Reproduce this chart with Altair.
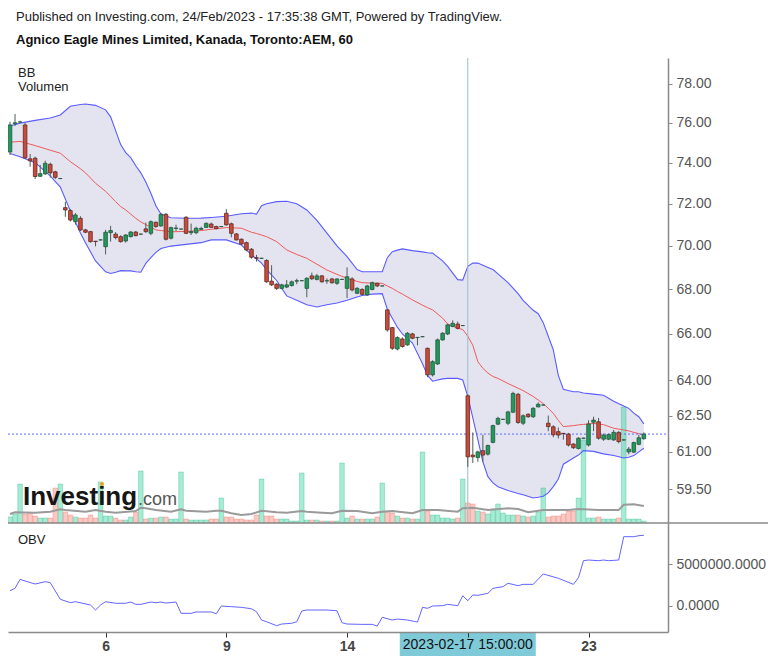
import altair as alt
import pandas as pd

# ---------------- texts ----------------
title_line = "Published on Investing.com, 24/Feb/2023 - 17:35:38 GMT, Powered by TradingView."
subtitle_line = "Agnico Eagle Mines Limited, Kanada, Toronto:AEM, 60"
crosshair_label = "2023-02-17 15:00:00"
crosshair_idx = 91
last_price = 61.73

# ---------------- hourly candles (bar index 0..126) ----------------
open_ = [74.53, 75.95, 76.04, 75.89, 74.19, 74.22, 73.33, 73.45, 73.92, 73.55,
         73.22, 71.81, 71.67, 71.14, 71.30, 70.75, 70.67, 70.22, 70.28, 69.96,
         70.62, 70.55, 70.43, 70.23, 70.43, 70.65, 70.55, 70.80, 70.59, 71.11,
         70.94, 71.49, 70.36, 70.82, 70.79, 71.35, 70.62, 70.62, 70.78, 70.87,
         71.03, 70.91, 70.91, 71.54, 71.04, 70.56, 70.31, 70.15, 69.84, 69.45,
         69.42, 69.32, 68.37, 68.23, 68.04, 68.10, 68.17, 68.37, 68.39, 68.04,
         68.61, 68.45, 68.61, 68.38, 68.47, 68.27, 68.45, 68.04, 68.47, 67.82,
         67.99, 67.74, 67.99, 68.27, 68.15, 67.07, 66.28, 65.34, 65.78, 65.52,
         66.00, 65.84, 65.88, 65.37, 64.22, 64.69, 65.74, 66.00, 66.33, 66.44,
         66.37, 63.33, 60.87, 60.77, 61.05, 60.91, 61.39, 62.14, 62.34, 62.18,
         62.64, 63.39, 62.18, 62.55, 62.45, 62.86, 62.94, 62.18, 62.03, 61.83,
         61.76, 61.73, 61.32, 61.14, 61.56, 61.28, 62.22, 62.24, 61.52, 61.52,
         61.49, 61.80, 61.49, 61.00, 60.99, 61.31, 61.54]
high = [76.05, 76.45, 76.10, 76.00, 74.43, 74.30, 73.89, 74.10, 74.00, 73.60,
        73.25, 72.09, 71.75, 71.55, 71.40, 70.80, 70.70, 70.22, 70.30, 70.75,
        70.94, 70.65, 70.50, 70.55, 70.70, 70.70, 70.57, 71.10, 71.20, 71.15,
        71.55, 71.55, 70.90, 71.00, 70.81, 71.40, 71.05, 70.90, 70.90, 71.10,
        71.10, 70.95, 70.93, 71.74, 71.10, 70.60, 70.35, 70.20, 69.90, 69.58,
        69.44, 69.38, 69.10, 68.28, 68.25, 68.42, 68.40, 68.48, 68.41, 68.55,
        68.76, 68.70, 68.65, 68.50, 68.52, 68.50, 68.47, 69.00, 68.55, 68.10,
        68.05, 68.20, 68.35, 68.30, 68.17, 67.10, 66.30, 65.90, 65.85, 66.08,
        66.05, 65.86, 65.90, 65.40, 64.85, 65.80, 66.08, 66.45, 66.60, 66.55,
        66.39, 63.40, 61.80, 61.05, 61.70, 61.30, 62.12, 62.45, 62.36, 62.70,
        63.50, 63.45, 62.55, 62.60, 62.85, 63.05, 62.96, 62.50, 62.10, 62.00,
        61.77, 61.78, 61.35, 61.60, 61.58, 62.30, 62.45, 62.40, 61.75, 61.75,
        61.90, 61.85, 61.51, 61.20, 61.42, 61.70, 61.80]
low = [74.38, 75.84, 76.00, 74.19, 73.80, 73.20, 73.30, 73.40, 73.27, 73.20,
       73.20, 71.37, 71.15, 71.00, 70.70, 70.60, 70.15, 69.98, 70.26, 69.60,
       70.20, 70.30, 70.15, 70.15, 70.40, 70.45, 70.53, 70.60, 70.50, 70.85,
       70.90, 70.25, 70.30, 70.70, 70.77, 70.55, 70.51, 70.55, 70.75, 70.85,
       70.85, 70.78, 70.89, 70.95, 70.40, 70.25, 70.05, 69.75, 69.40, 69.27,
       69.40, 68.30, 68.15, 67.97, 68.00, 68.05, 68.12, 68.23, 68.37, 67.64,
       68.42, 68.40, 68.30, 68.25, 68.25, 68.20, 68.43, 67.60, 67.90, 67.78,
       67.72, 67.70, 67.95, 68.10, 68.13, 66.10, 65.30, 65.28, 65.40, 65.48,
       65.77, 65.50, 65.86, 64.12, 64.15, 64.65, 65.70, 65.95, 66.30, 66.20,
       66.35, 60.39, 60.55, 60.60, 60.60, 60.85, 61.35, 62.10, 62.32, 62.10,
       62.60, 62.15, 62.10, 62.40, 62.40, 62.85, 62.92, 61.85, 61.60, 61.55,
       61.50, 61.22, 61.12, 61.10, 61.54, 61.22, 61.85, 61.50, 61.45, 61.48,
       61.45, 61.35, 61.47, 60.90, 60.95, 61.27, 61.50]
close = [75.89, 76.00, 76.04, 74.24, 74.09, 73.32, 73.46, 73.97, 73.50, 73.28,
         73.22, 71.70, 71.22, 71.46, 70.75, 70.64, 70.20, 70.20, 70.28, 70.64,
         70.72, 70.39, 70.20, 70.51, 70.65, 70.48, 70.55, 70.67, 71.14, 70.91,
         71.49, 70.31, 70.86, 70.84, 70.79, 70.59, 70.67, 70.83, 70.82, 71.06,
         70.87, 70.81, 70.91, 70.99, 70.59, 70.28, 70.09, 69.81, 69.47, 69.42,
         69.42, 68.34, 68.20, 68.04, 68.20, 68.20, 68.34, 68.39, 68.39, 68.50,
         68.48, 68.61, 68.34, 68.39, 68.30, 68.47, 68.45, 68.57, 67.97, 68.04,
         67.77, 68.15, 68.30, 68.15, 68.15, 66.18, 65.37, 65.84, 65.45, 66.03,
         65.81, 65.85, 65.88, 64.22, 64.79, 65.74, 66.03, 66.40, 66.47, 66.25,
         66.37, 60.80, 60.80, 61.00, 60.87, 61.26, 62.08, 62.38, 62.34, 62.65,
         63.43, 62.21, 62.49, 62.45, 62.80, 62.97, 62.94, 62.04, 61.70, 61.69,
         61.75, 61.28, 61.17, 61.56, 61.56, 62.15, 62.31, 61.56, 61.69, 61.71,
         61.80, 61.42, 61.49, 61.11, 61.38, 61.58, 61.73]
# volume in thousands of shares
volume_k = [148, 221, 959, 221, 246, 172, 123, 123, 123, 861,
            959, 271, 197, 148, 123, 123, 197, 123, 1009, 172,
            172, 123, 74, 74, 148, 271, 1279, 98, 123, 123,
            148, 148, 98, 98, 1255, 98, 74, 74, 74, 74,
            98, 98, 615, 148, 148, 98, 98, 74, 74, 197,
            1082, 172, 172, 98, 98, 98, 49, 49, 1230, 74,
            74, 74, 49, 49, 49, 49, 1476, 123, 172, 98,
            98, 98, 98, 148, 984, 295, 246, 172, 123, 123,
            98, 98, 1747, 295, 197, 197, 123, 123, 98, 123,
            1082, 492, 467, 295, 271, 221, 344, 467, 246, 197,
            197, 197, 172, 148, 172, 271, 861, 148, 172, 172,
            221, 295, 295, 615, 2042, 123, 123, 148, 98, 98,
            98, 123, 2854, 98, 98, 98, 49]

# ---------------- Bollinger bands ----------------
bb_idx = [0, 2, 5, 8, 10, 12, 14, 15, 17, 19,
          20, 21, 22, 23, 24, 25, 26, 27, 28, 29,
          30, 32, 35, 38, 40, 43, 46, 48, 49, 50,
          51, 53, 55, 57, 59, 61, 63, 65, 67, 69,
          70, 72, 74, 75, 76, 77, 78, 80, 82, 83,
          84, 86, 87, 89, 90, 91, 92, 93, 94, 95,
          96, 97, 99, 101, 102, 104, 105, 106, 107, 108,
          109, 110, 112, 113, 114, 116, 118, 120, 122, 123,
          124, 125, 126]
bb_upper = [75.84, 75.98, 76.12, 76.24, 76.40, 76.84, 76.93, 76.96, 76.89, 76.66,
            76.30, 75.60, 74.90, 74.50, 74.25, 73.85, 73.50, 73.05, 72.50, 71.90,
            71.50, 71.33, 71.30, 71.31, 71.34, 71.40, 71.52, 71.55, 71.50, 71.90,
            72.00, 72.10, 72.12, 72.00, 71.70, 71.20, 70.60, 70.00, 69.50, 68.90,
            68.80, 68.80, 68.80, 69.45, 69.73, 69.80, 69.86, 69.78, 69.72, 69.68,
            69.66, 69.30, 69.05, 68.44, 68.42, 69.05, 69.20, 69.20, 69.10, 69.00,
            68.90, 68.70, 68.30, 67.80, 67.50, 67.05, 66.90, 66.50, 65.90, 65.30,
            64.20, 63.60, 63.50, 63.50, 63.45, 63.40, 63.35, 63.10, 62.90, 62.80,
            62.60, 62.45, 62.15]
bb_mid = [75.02, 75.06, 74.85, 74.62, 74.47, 74.05, 73.70, 73.50, 72.99, 72.60,
          72.35, 72.10, 71.86, 71.70, 71.50, 71.30, 71.13, 71.00, 70.88, 70.75,
          70.72, 70.66, 70.68, 70.72, 70.78, 70.86, 70.83, 70.64, 70.58, 70.51,
          70.43, 70.20, 69.81, 69.60, 69.42, 69.15, 68.88, 68.68, 68.50, 68.36,
          68.30, 68.28, 68.27, 68.15, 68.04, 67.90, 67.78, 67.52, 67.28, 67.17,
          67.07, 66.70, 66.44, 66.25, 66.20, 65.90, 65.50, 64.79, 64.50, 64.30,
          64.15, 64.07, 63.85, 63.65, 63.55, 63.30, 63.15, 63.00, 62.80, 62.59,
          62.30, 62.04, 62.08, 62.11, 62.13, 62.17, 62.12, 61.97, 61.90, 61.86,
          61.80, 61.75, 61.69]
bb_lower = [74.46, 74.29, 74.00, 73.35, 72.80, 71.65, 70.60, 70.15, 69.30, 68.80,
            68.72, 68.78, 68.85, 68.84, 68.84, 68.80, 68.78, 69.19, 69.45, 69.70,
            69.88, 69.99, 70.07, 70.15, 70.28, 70.28, 70.04, 69.58, 69.40, 69.20,
            68.90, 68.40, 67.70, 67.50, 67.30, 67.20, 67.30, 67.38, 67.50, 67.65,
            67.72, 67.78, 67.80, 67.10, 66.70, 66.30, 66.00, 65.60, 64.70, 64.20,
            63.95, 64.05, 64.07, 64.07, 64.00, 63.30, 62.40, 61.50, 60.60, 60.00,
            59.75, 59.60, 59.45, 59.33, 59.28, 59.15, 59.18, 59.22, 59.35, 59.60,
            59.90, 60.50, 60.75, 60.87, 61.05, 61.02, 60.92, 60.85, 60.75, 60.78,
            60.85, 61.00, 61.15]

# ---------------- volume moving average (thousands) ----------------
vma_idx = [0, 1, 5, 8, 10, 11, 15, 17, 19, 21, 25, 26, 27, 29, 32, 34, 35, 39, 41, 42,
           44, 46, 48, 50, 53, 55, 58, 59, 62, 64, 66, 69, 72, 74, 76, 80, 82, 85, 89, 90,
           92, 95, 99, 101, 103, 106, 109, 111, 113, 117, 121, 122, 124, 126]
vma_val = [221, 263, 253, 278, 337, 320, 278, 320, 278, 253, 295, 376, 362, 320, 278, 337, 303, 278, 303, 303,
           239, 197, 221, 303, 263, 253, 295, 278, 253, 239, 303, 295, 239, 278, 295, 239, 320, 320, 278, 362,
           376, 320, 362, 344, 263, 320, 320, 320, 344, 320, 320, 450, 460, 418]

# ---------------- OBV (millions) ----------------
obv_idx = [0, 1, 2, 3, 5, 7, 8, 10, 12, 13, 16, 17, 18, 19, 21, 23, 24, 25, 26, 28,
           29, 30, 31, 33, 34, 36, 37, 40, 41, 42, 44, 46, 48, 49, 50, 51, 53, 54, 56, 57,
           58, 59, 63, 65, 66, 67, 70, 72, 73, 74, 76, 77, 79, 81, 82, 83, 84, 86, 87, 89,
           90, 91, 92, 93, 95, 96, 98, 99, 101, 102, 104, 106, 109, 112, 113, 114, 115, 117, 118, 119,
           121, 122, 124, 125, 126]
obv_m = [1.78, 2.07, 3.16, 2.95, 2.59, 2.87, 2.75, 0.75, 0.34, 0.46, 0.06, -0.54, 0.06, 0.46, 0.27, 0.27, 0.42, 0.14, 0.14, 0.42,
         0.34, 0.42, 0.30, 0.42, -0.94, -0.94, -0.78, -0.78, -0.99, -0.06, -0.14, -0.22, -0.39, -0.75, -1.75, -1.95, -2.43, -2.23, -2.14, -1.95,
         -0.66, -0.54, -0.54, -0.63, -2.07, -2.23, -2.27, -2.27, -2.47, -1.42, -1.75, -1.63, -1.75, -1.99, -0.22, -0.34, -0.06, -0.02, 0.14, -0.02,
         1.18, 0.58, 1.27, 1.23, 1.47, 2.07, 2.27, 2.68, 2.39, 2.55, 2.55, 3.80, 3.28, 2.55, 3.35, 5.40, 5.48, 5.40, 5.48, 5.40,
         5.48, 8.29, 8.29, 8.41, 8.46]

# ---------------- axes ----------------
price_ticks = [59.5, 61, 62.5, 64, 66, 68, 70, 72, 74, 76, 78]
obv_ticks = [0, 5000000]
x_tick_idx = [19, 43, 67, 91, 115]
x_tick_lab = ["6", "9", "14", "", "23"]

# ---------------- tables ----------------
n = len(close)
candles = pd.DataFrame({"i": list(range(n)), "open": open_, "high": high, "low": low,
                        "close": close, "vol": volume_k})
bb = pd.DataFrame({"i": bb_idx, "upper": bb_upper, "mid": bb_mid, "lower": bb_lower})
vma = pd.DataFrame({"i": vma_idx, "v": vma_val})
obv = pd.DataFrame({"i": obv_idx, "obv": [v * 1e6 for v in obv_m]})

W, H_MAIN, H_OBV = 660, 465, 109
FONT = "Liberation Sans"

label_expr = " : ".join(f"datum.value == {v} ? '{t}'" for v, t in zip(x_tick_idx, x_tick_lab)) + " : ''"
x_axis = alt.Axis(values=x_tick_idx, labelExpr=label_expr, orient="bottom", title=None, grid=False,
                  labelFontSize=14, labelFontWeight="bold", labelColor="#444", labelFont=FONT,
                  tickColor="#333", tickSize=5, domainColor="#8a8a8a", domainWidth=1.5,
                  labelPadding=2, zindex=1, labelFlush=False, labelOverlap=False)
xs = alt.Scale(domain=[-0.4, 130.8], nice=False, zero=False, padding=0)
X = alt.X("i:Q", scale=xs, axis=x_axis)

ps = alt.Scale(type="log", domain=[58.17, 79.36], range=[H_MAIN, 0], nice=False, zero=False)
p_axis = alt.Axis(orient="right", values=price_ticks, format=".2f", title=None, grid=False,
                  labelFontSize=14, labelColor="#555", labelFont=FONT, tickColor="#888", tickSize=4,
                  domainColor="#8a8a8a", domainWidth=1.5, labelPadding=4, zindex=1,
                  labelFlush=False, labelOverlap=False)
vs = alt.Scale(domain=[0, 11439], range=[H_MAIN, 0], nice=False)
os_ = alt.Scale(domain=[-3.19e6, 9.94e6], range=[H_MAIN + H_OBV, H_MAIN], nice=False, zero=False)
o_axis = alt.Axis(orient="right", values=obv_ticks, format=".4f", title=None, grid=False,
                  labelFontSize=14, labelColor="#555", labelFont=FONT, tickColor="#888", tickSize=4,
                  domainColor="#8a8a8a", domainWidth=1.5, labelPadding=4, zindex=1,
                  labelFlush=False, labelOverlap=False)

# group 1: band fill (carries price axis)
band = alt.Chart(bb).mark_area(color="#e4e4f1").encode(
    X, y=alt.Y("lower:Q", scale=ps, axis=p_axis), y2="upper:Q")
g1 = alt.layer(band)

# group 2: volume
up_cond = "datum.close >= datum.open"
vbars = alt.Chart(candles).mark_bar(size=4.6, fillOpacity=0.45, strokeWidth=0.6, strokeOpacity=0.55).encode(
    X, y=alt.Y("vol:Q", scale=vs, axis=None),
    fill=alt.condition(up_cond, alt.value("#3ad39f"), alt.value("#f7867a")),
    stroke=alt.condition(up_cond, alt.value("#2bb583"), alt.value("#e86e62")))
vline = alt.Chart(vma).mark_line(color="#9a9a9a", strokeWidth=2).encode(
    X, y=alt.Y("v:Q", scale=vs, axis=None))
g2 = alt.layer(vbars, vline)

# group 3: price lines, candles, annotations
def py(field):
    return alt.Y(field, scale=ps, axis=None)

upper_l = alt.Chart(bb).mark_line(color="#5b5bff", strokeWidth=1.1).encode(X, y=py("upper:Q"))
lower_l = alt.Chart(bb).mark_line(color="#5b5bff", strokeWidth=1.1).encode(X, y=py("lower:Q"))
mid_l = alt.Chart(bb).mark_line(color="#ef5a5a", strokeWidth=1).encode(X, y=py("mid:Q"))
cross_v = alt.Chart(pd.DataFrame({"i": [crosshair_idx]})).mark_rule(color="#98bccb", strokeWidth=1).encode(
    X, y=alt.value(0), y2=alt.value(H_MAIN))
last_l = alt.Chart(pd.DataFrame({"p": [last_price]})).mark_rule(
    color="#5c6cff", strokeWidth=1, strokeDash=[2, 2]).encode(
    y=py("p:Q"), x=alt.value(0), x2=alt.value(W))
wicks = alt.Chart(candles).mark_rule(color="#4d5d56", strokeWidth=1).encode(
    X, y=py("low:Q"), y2="high:Q")
bodies = alt.Chart(candles).mark_bar(size=3.6, strokeWidth=0.8).encode(
    X, y=py("open:Q"), y2="close:Q",
    fill=alt.condition(up_cond, alt.value("#1e9a5a"), alt.value("#cc4a3b")),
    stroke=alt.condition(up_cond, alt.value("#27553d"), alt.value("#5e2a22")))


def label(text, x, y, size=13, weight="normal", color="#222", align="left", baseline="middle", font=FONT):
    return alt.Chart(pd.DataFrame({"t": [text]})).mark_text(
        align=align, baseline=baseline, font=font, fontSize=size, fontWeight=weight, color=color
    ).encode(x=alt.value(x), y=alt.value(y), text="t:N")

t1 = label(title_line, 8, -41, 13, "normal", "#222")
t2 = label(subtitle_line, 8, -18, 13, "bold", "#111")
t3 = label("BB", 10, 15, 13, "normal", "#222")
t4 = label("Volumen", 10, 29, 13, "normal", "#222")
logo1 = label("Investing", 15, 447, 26, "bold", "#161616", baseline="alphabetic")
logo2 = label(".com", 130, 447, 18, "normal", "#555", baseline="alphabetic")
logo_dot = alt.Chart(pd.DataFrame({"a": [0]})).mark_point(
    shape="circle", filled=True, size=16, color="#f5a01a", opacity=1).encode(
    x=alt.value(94), y=alt.value(426))

g3 = alt.layer(upper_l, lower_l, mid_l, cross_v, last_l, wicks, bodies, t1, t2, t3, t4, logo1, logo2, logo_dot)

# group 4: OBV panel
obv_line = alt.Chart(obv).mark_line(color="#6464ff", strokeWidth=1).encode(
    X, y=alt.Y("obv:Q", scale=os_, axis=o_axis))
sep = alt.Chart(pd.DataFrame({"a": [0]})).mark_rule(color="#8a8a8a", strokeWidth=1.5).encode(
    x=alt.value(0), x2=alt.value(768), y=alt.value(H_MAIN))
t_obv = label("OBV", 10, H_MAIN + 17, 13, "normal", "#222")
ch_box = alt.Chart(pd.DataFrame({"i": [crosshair_idx]})).mark_bar(size=136, color="#7fcad8").encode(
    X, y=alt.value(H_MAIN + H_OBV + 0.5), y2=alt.value(H_MAIN + H_OBV + 24))
ch_txt = alt.Chart(pd.DataFrame({"i": [crosshair_idx], "t": [crosshair_label]})).mark_text(
    font=FONT, fontSize=14, color="#111", align="center", baseline="middle").encode(
    X, y=alt.value(H_MAIN + H_OBV + 13), text="t:N")
g4 = alt.layer(obv_line, sep, t_obv, ch_box, ch_txt)

chart = alt.layer(g1, g2, g3, g4).resolve_scale(y="independent").properties(
    width=W, height=H_MAIN + H_OBV,
    autosize=alt.AutoSizeParams(type="none"),
    padding={"left": 0, "top": 50, "right": 100, "bottom": 26},
).configure_view(stroke=None).configure_axis(labelFont=FONT)

chart.save("out.html", embed_options={"renderer": "svg", "actions": False})
